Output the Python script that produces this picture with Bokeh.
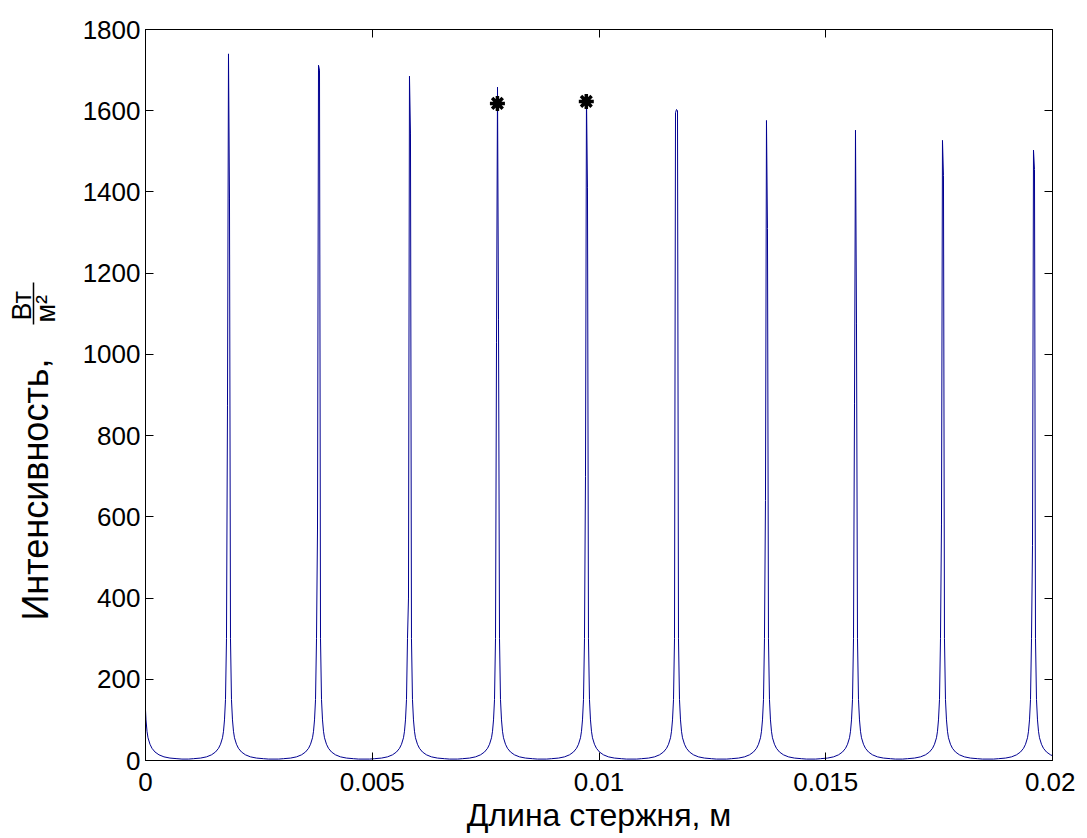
import math
from bokeh.plotting import figure
from bokeh.layouts import row
from bokeh.models import LinearAxis, FixedTicker, Range1d
from bokeh.core.properties import value
from bokeh.embed import file_html
from bokeh.resources import INLINE

# ---- data ----
# peak centres (m) and peak heights (W/m^2)
peak_x = [-0.000077, 0.001830, 0.003815, 0.005821, 0.007762, 0.009724,
          0.011709, 0.013693, 0.015656, 0.017574, 0.019581]
peak_top = [1740, 1740, 1712, 1685, 1658, 1635, 1603, 1576, 1552, 1527, 1503]
# neighbouring samples on each side of the top
shoulder_left = [875, 875, 570, 400, 1030, 700, 1595, 640, 880, 580, 530]
shoulder_right = [1385, 1385, 1700, 1545, 1085, 1410, 1600, 1310, 1075, 1440, 1455]
# tail of a peak: distance from centre (in samples) and intensity
sample_step = 2.2e-5
tail_steps = [2, 3, 4, 5, 6, 8, 10, 13, 17, 22, 28, 35, 40]
tail_vals = [300, 150, 100, 72, 56, 40, 30, 21, 14, 9, 6, 4.5, 3.5]

# marked points
star_x = [0.00776, 0.00972]
star_y = [1618, 1623]

x_ticks = [0, 0.005, 0.01, 0.015, 0.02]
x_tick_labels = ["0", "0.005", "0.01", "0.015", "0.02"]
y_ticks = [0, 200, 400, 600, 800, 1000, 1200, 1400, 1600, 1800]

y_title = "Интенсивность,"
y_unit_num = "Вт"
y_unit_den = "м²"
x_title = "Длина стержня, м"

# ---- assemble the curve from the per-peak samples ----
xs, ys = [], []
for cx, top, sl, sr in zip(peak_x, peak_top, shoulder_left, shoulder_right):
    for s, v in zip(reversed(tail_steps), reversed(tail_vals)):
        xs.append(cx - s * sample_step); ys.append(v)
    xs.append(cx - sample_step); ys.append(sl)
    xs.append(cx); ys.append(top)
    xs.append(cx + sample_step); ys.append(sr)
    for s, v in zip(tail_steps, tail_vals):
        xs.append(cx + s * sample_step); ys.append(v)

FONT = "Liberation Sans"
H = 835
LW = 60          # width of the strip that holds the y-axis title
F_TOP, F_BOT = 29, 760   # frame top/bottom in page pixels

p = figure(width=1075 - LW, height=H, output_backend="svg", toolbar_location=None,
           x_range=Range1d(0, 0.02), y_range=Range1d(0, 1800),
           min_border_left=145 - LW, min_border_right=23, min_border_top=F_TOP,
           min_border_bottom=H - F_BOT)
p.background_fill_color = "white"
p.border_fill_color = "white"
p.outline_line_color = "black"
p.outline_line_width = 1
p.grid.visible = False

p.line(xs, ys, line_color="#000090", line_width=1)
p.scatter(star_x, star_y, marker="asterisk", size=15, line_color="black",
          line_width=3.5)

def style_axis(ax, labels=True):
    ax.axis_line_color = "black"
    ax.major_tick_line_color = "black"
    ax.major_tick_in = 8
    ax.major_tick_out = 0
    ax.minor_tick_line_color = None
    ax.major_label_text_font = FONT
    ax.major_label_text_font_size = "26px" if labels else "0px"
    ax.major_label_text_color = "black"
    ax.major_label_standoff = 8

xa = p.xaxis[0]
xa.ticker = FixedTicker(ticks=x_ticks)
xa.major_label_overrides = {t: l for t, l in zip(x_ticks, x_tick_labels)}
style_axis(xa)
xa.major_label_standoff = 12
xa.axis_label = x_title
xa.axis_label_text_font = FONT
xa.axis_label_text_font_style = "normal"
xa.axis_label_text_font_size = "32px"
xa.axis_label_text_color = "black"
xa.axis_label_standoff = 3

ya = p.yaxis[0]
ya.ticker = FixedTicker(ticks=y_ticks)
style_axis(ya)
ya.major_label_standoff = 5

top_ax = LinearAxis(ticker=FixedTicker(ticks=x_ticks))
style_axis(top_ax, labels=False)
p.add_layout(top_ax, "above")
right_ax = LinearAxis(ticker=FixedTicker(ticks=y_ticks))
style_axis(right_ax, labels=False)
p.add_layout(right_ax, "right")

# ---- strip on the left holding the y-axis title with its fraction ----
# its frame is aligned with the main frame, so use page pixels as data range
t = figure(width=LW, height=H, output_backend="svg", toolbar_location=None,
           x_range=Range1d(0, LW), y_range=Range1d(F_BOT, F_TOP),
           min_border=0, min_border_left=0, min_border_right=0,
           min_border_top=F_TOP, min_border_bottom=H - F_BOT)
t.axis.visible = False
t.grid.visible = False
t.outline_line_color = None
t.background_fill_color = "white"
t.border_fill_color = "white"
t.text(x=[35], y=[620], text=[y_title], angle=math.pi / 2,
       text_align="left", text_baseline="middle",
       text_font=value(FONT), text_font_size="36px", text_color="black")
t.text(x=[21], y=[320], text=[y_unit_num], angle=math.pi / 2,
       text_align="left", text_baseline="middle",
       text_font=value(FONT), text_font_size="27px", text_color="black")
t.text(x=[45], y=[322], text=[y_unit_den], angle=math.pi / 2,
       text_align="left", text_baseline="middle",
       text_font=value(FONT), text_font_size="27px", text_color="black")
t.segment(x0=[33], y0=[282], x1=[33], y1=[324], line_color="black", line_width=1.5)

layout = row(t, p, spacing=0)
open("out.html", "w").write(file_html(layout, INLINE))
